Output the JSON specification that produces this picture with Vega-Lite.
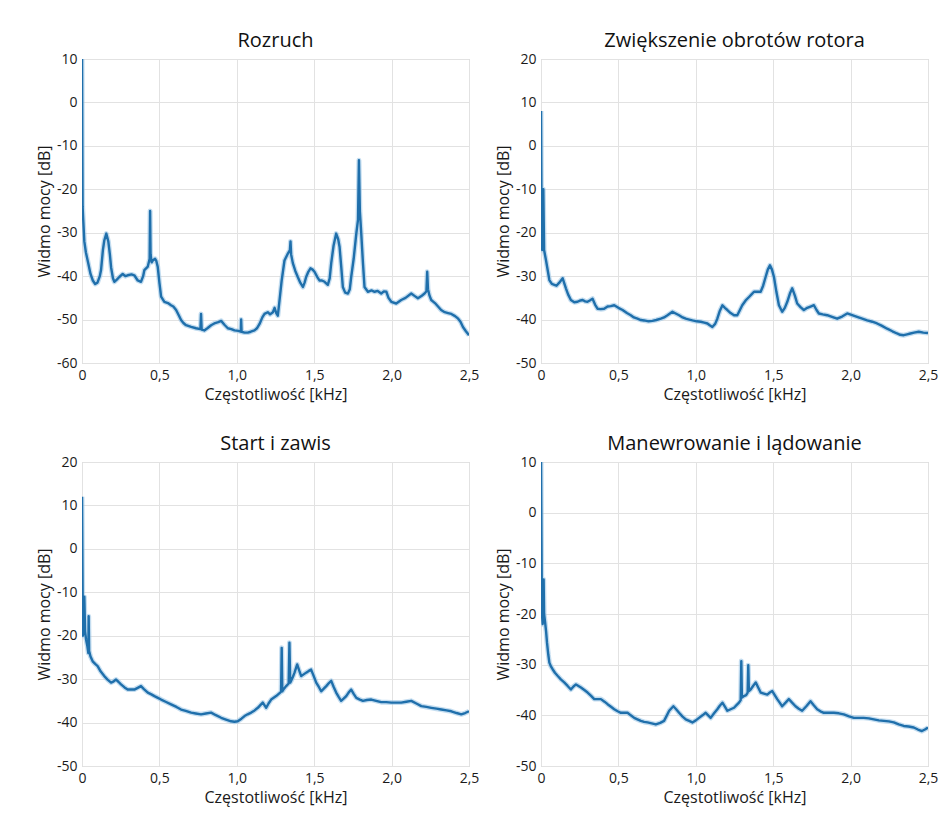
{
  "$schema": "https://vega.github.io/schema/vega-lite/v6.json",
  "background": "white",
  "padding": {"left": 35, "top": 30, "right": 5, "bottom": 5},
  "columns": 2,
  "bounds": "flush",
  "spacing": {"row": 99, "column": 72},
  "datasets": {
    "rozruch": [
      {"f":0,"db":11},{"f":0.002,"db":-10},{"f":0.004,"db":-24},{"f":0.008,"db":-27},{"f":0.015,"db":-32},{"f":0.025,"db":-34.5},{"f":0.04,"db":-37},{"f":0.055,"db":-39.5},{"f":0.07,"db":-41},{"f":0.085,"db":-41.8},{"f":0.1,"db":-41.5},{"f":0.115,"db":-40},{"f":0.123,"db":-38.6},{"f":0.135,"db":-34},{"f":0.144,"db":-31.8},{"f":0.157,"db":-30.2},{"f":0.17,"db":-32},{"f":0.18,"db":-35},{"f":0.188,"db":-38},{"f":0.2,"db":-40.5},{"f":0.209,"db":-41.3},{"f":0.225,"db":-40.8},{"f":0.241,"db":-40.2},{"f":0.263,"db":-39.5},{"f":0.28,"db":-40},{"f":0.295,"db":-39.8},{"f":0.32,"db":-39.6},{"f":0.338,"db":-39.8},{"f":0.36,"db":-41},{"f":0.381,"db":-41.3},{"f":0.395,"db":-40},{"f":0.403,"db":-38.6},{"f":0.425,"db":-37.8},{"f":0.437,"db":-36},{"f":0.44,"db":-25},{"f":0.443,"db":-35},{"f":0.45,"db":-36.8},{"f":0.457,"db":-36.4},{"f":0.472,"db":-36},{"f":0.48,"db":-36.5},{"f":0.489,"db":-37.8},{"f":0.5,"db":-41.5},{"f":0.511,"db":-44.7},{"f":0.532,"db":-45.9},{"f":0.555,"db":-46.2},{"f":0.575,"db":-46.7},{"f":0.59,"db":-47},{"f":0.608,"db":-47.8},{"f":0.625,"db":-49},{"f":0.64,"db":-50.1},{"f":0.655,"db":-50.8},{"f":0.672,"db":-51.3},{"f":0.705,"db":-51.7},{"f":0.737,"db":-52},{"f":0.765,"db":-52.2},{"f":0.769,"db":-48.7},{"f":0.773,"db":-52.3},{"f":0.79,"db":-52.5},{"f":0.81,"db":-52},{"f":0.834,"db":-51.3},{"f":0.86,"db":-50.8},{"f":0.88,"db":-50.6},{"f":0.899,"db":-50.3},{"f":0.92,"db":-51.2},{"f":0.942,"db":-52},{"f":0.965,"db":-52.2},{"f":0.985,"db":-52.5},{"f":1.01,"db":-52.6},{"f":1.026,"db":-52.8},{"f":1.028,"db":-50},{"f":1.031,"db":-52.8},{"f":1.05,"db":-53},{"f":1.071,"db":-53},{"f":1.09,"db":-52.8},{"f":1.114,"db":-52.5},{"f":1.13,"db":-52},{"f":1.147,"db":-51},{"f":1.165,"db":-49.5},{"f":1.179,"db":-48.7},{"f":1.2,"db":-48.3},{"f":1.215,"db":-48.8},{"f":1.233,"db":-48.3},{"f":1.244,"db":-47.3},{"f":1.255,"db":-48.5},{"f":1.265,"db":-49.1},{"f":1.276,"db":-45.6},{"f":1.29,"db":-41},{"f":1.308,"db":-36.4},{"f":1.33,"db":-34.8},{"f":1.343,"db":-34},{"f":1.347,"db":-32},{"f":1.351,"db":-35},{"f":1.362,"db":-37},{"f":1.378,"db":-38.8},{"f":1.394,"db":-40.2},{"f":1.41,"db":-41.5},{"f":1.427,"db":-42.5},{"f":1.438,"db":-41.5},{"f":1.448,"db":-40.2},{"f":1.462,"db":-39},{"f":1.476,"db":-38.2},{"f":1.49,"db":-38.5},{"f":1.502,"db":-39},{"f":1.52,"db":-40.2},{"f":1.534,"db":-41},{"f":1.55,"db":-41},{"f":1.567,"db":-41.3},{"f":1.588,"db":-42},{"f":1.6,"db":-40.5},{"f":1.61,"db":-37},{"f":1.625,"db":-33},{"f":1.642,"db":-30.2},{"f":1.655,"db":-31.5},{"f":1.664,"db":-33.3},{"f":1.675,"db":-38},{"f":1.685,"db":-42.5},{"f":1.7,"db":-43.8},{"f":1.718,"db":-44},{"f":1.73,"db":-43},{"f":1.739,"db":-40.2},{"f":1.755,"db":-36},{"f":1.772,"db":-30.2},{"f":1.783,"db":-27},{"f":1.789,"db":-13.3},{"f":1.795,"db":-25},{"f":1.804,"db":-30.2},{"f":1.815,"db":-37},{"f":1.825,"db":-42.5},{"f":1.847,"db":-43.6},{"f":1.87,"db":-43.3},{"f":1.89,"db":-43.6},{"f":1.91,"db":-43.4},{"f":1.933,"db":-44},{"f":1.95,"db":-43.5},{"f":1.966,"db":-43.6},{"f":1.98,"db":-45},{"f":1.998,"db":-45.9},{"f":2.03,"db":-46.3},{"f":2.062,"db":-45.5},{"f":2.09,"db":-45},{"f":2.127,"db":-44},{"f":2.15,"db":-44.6},{"f":2.17,"db":-45.1},{"f":2.195,"db":-44.5},{"f":2.213,"db":-44},{"f":2.225,"db":-43.5},{"f":2.23,"db":-39},{"f":2.235,"db":-43},{"f":2.245,"db":-44.5},{"f":2.256,"db":-45.5},{"f":2.28,"db":-46.2},{"f":2.3,"db":-47},{"f":2.32,"db":-47.8},{"f":2.343,"db":-48.3},{"f":2.365,"db":-48.5},{"f":2.386,"db":-48.7},{"f":2.41,"db":-49.2},{"f":2.43,"db":-49.8},{"f":2.445,"db":-50.5},{"f":2.461,"db":-51.7},{"f":2.48,"db":-52.7},{"f":2.5,"db":-53.6}
    ],
    "zwiekszenie": [
      {"f":0,"db":8},{"f":0.004,"db":-18},{"f":0.008,"db":-24},{"f":0.015,"db":-10},{"f":0.02,"db":-24},{"f":0.032,"db":-26.3},{"f":0.045,"db":-29},{"f":0.054,"db":-30.9},{"f":0.07,"db":-31.8},{"f":0.086,"db":-32},{"f":0.1,"db":-32.2},{"f":0.118,"db":-31.5},{"f":0.14,"db":-30.5},{"f":0.161,"db":-32.8},{"f":0.175,"db":-34.2},{"f":0.193,"db":-35.5},{"f":0.215,"db":-36},{"f":0.236,"db":-35.9},{"f":0.255,"db":-35.6},{"f":0.269,"db":-35.5},{"f":0.285,"db":-35.8},{"f":0.3,"db":-35.9},{"f":0.315,"db":-35.6},{"f":0.333,"db":-35.2},{"f":0.35,"db":-36.6},{"f":0.365,"db":-37.5},{"f":0.385,"db":-37.6},{"f":0.408,"db":-37.5},{"f":0.43,"db":-37},{"f":0.45,"db":-36.9},{"f":0.473,"db":-36.7},{"f":0.5,"db":-37.3},{"f":0.527,"db":-37.8},{"f":0.555,"db":-38.5},{"f":0.58,"db":-39},{"f":0.6,"db":-39.5},{"f":0.623,"db":-39.8},{"f":0.645,"db":-40.1},{"f":0.666,"db":-40.2},{"f":0.695,"db":-40.4},{"f":0.72,"db":-40.3},{"f":0.745,"db":-40.1},{"f":0.774,"db":-39.8},{"f":0.795,"db":-39.5},{"f":0.817,"db":-39},{"f":0.849,"db":-38.2},{"f":0.87,"db":-38.6},{"f":0.892,"db":-39},{"f":0.915,"db":-39.5},{"f":0.935,"db":-39.8},{"f":0.958,"db":-40},{"f":0.978,"db":-40.2},{"f":1.005,"db":-40.4},{"f":1.032,"db":-40.5},{"f":1.055,"db":-40.7},{"f":1.075,"db":-40.9},{"f":1.09,"db":-41.3},{"f":1.107,"db":-41.7},{"f":1.125,"db":-41},{"f":1.139,"db":-39.8},{"f":1.155,"db":-38},{"f":1.172,"db":-36.7},{"f":1.188,"db":-37.3},{"f":1.204,"db":-37.8},{"f":1.225,"db":-38.5},{"f":1.247,"db":-39},{"f":1.268,"db":-39},{"f":1.285,"db":-37.8},{"f":1.3,"db":-36.7},{"f":1.322,"db":-35.6},{"f":1.344,"db":-34.8},{"f":1.36,"db":-34.2},{"f":1.376,"db":-33.6},{"f":1.4,"db":-33.6},{"f":1.419,"db":-33.6},{"f":1.435,"db":-32.2},{"f":1.451,"db":-30.2},{"f":1.465,"db":-28.5},{"f":1.479,"db":-27.5},{"f":1.492,"db":-28.5},{"f":1.505,"db":-30.2},{"f":1.52,"db":-33.5},{"f":1.537,"db":-36.7},{"f":1.558,"db":-38.2},{"f":1.575,"db":-37.3},{"f":1.591,"db":-35.9},{"f":1.608,"db":-34},{"f":1.623,"db":-32.8},{"f":1.64,"db":-34.5},{"f":1.655,"db":-36.3},{"f":1.678,"db":-37.2},{"f":1.698,"db":-37.8},{"f":1.72,"db":-37.3},{"f":1.741,"db":-37},{"f":1.763,"db":-36.7},{"f":1.78,"db":-37.8},{"f":1.795,"db":-38.6},{"f":1.82,"db":-38.8},{"f":1.849,"db":-39},{"f":1.88,"db":-39.4},{"f":1.913,"db":-39.8},{"f":1.945,"db":-39.3},{"f":1.978,"db":-38.6},{"f":2.01,"db":-39},{"f":2.042,"db":-39.4},{"f":2.075,"db":-39.8},{"f":2.107,"db":-40.2},{"f":2.14,"db":-40.5},{"f":2.171,"db":-40.9},{"f":2.2,"db":-41.4},{"f":2.236,"db":-42.1},{"f":2.27,"db":-42.7},{"f":2.3,"db":-43.2},{"f":2.32,"db":-43.5},{"f":2.343,"db":-43.6},{"f":2.365,"db":-43.4},{"f":2.386,"db":-43.2},{"f":2.41,"db":-43},{"f":2.44,"db":-42.8},{"f":2.47,"db":-43},{"f":2.5,"db":-43.1}
    ],
    "start": [
      {"f":0,"db":12},{"f":0.003,"db":-5},{"f":0.006,"db":-20},{"f":0.01,"db":-17},{"f":0.015,"db":-11},{"f":0.02,"db":-19},{"f":0.026,"db":-20.8},{"f":0.035,"db":-22.5},{"f":0.041,"db":-24},{"f":0.043,"db":-15.5},{"f":0.046,"db":-23.5},{"f":0.055,"db":-24.8},{"f":0.069,"db":-25.9},{"f":0.085,"db":-26.5},{"f":0.101,"db":-27},{"f":0.12,"db":-28.2},{"f":0.144,"db":-29.3},{"f":0.165,"db":-30.1},{"f":0.188,"db":-30.8},{"f":0.205,"db":-30.5},{"f":0.22,"db":-30.1},{"f":0.235,"db":-30.6},{"f":0.252,"db":-31.2},{"f":0.275,"db":-31.9},{"f":0.295,"db":-32.4},{"f":0.318,"db":-32.4},{"f":0.338,"db":-32.4},{"f":0.36,"db":-32},{"f":0.381,"db":-31.6},{"f":0.4,"db":-32.3},{"f":0.425,"db":-33.1},{"f":0.448,"db":-33.5},{"f":0.468,"db":-33.9},{"f":0.49,"db":-34.3},{"f":0.511,"db":-34.7},{"f":0.54,"db":-35.2},{"f":0.575,"db":-35.8},{"f":0.61,"db":-36.4},{"f":0.64,"db":-37},{"f":0.67,"db":-37.3},{"f":0.705,"db":-37.7},{"f":0.735,"db":-37.9},{"f":0.769,"db":-38.1},{"f":0.8,"db":-37.9},{"f":0.834,"db":-37.7},{"f":0.865,"db":-38.3},{"f":0.899,"db":-38.9},{"f":0.93,"db":-39.3},{"f":0.963,"db":-39.7},{"f":0.985,"db":-39.8},{"f":1.006,"db":-39.7},{"f":1.03,"db":-39.1},{"f":1.05,"db":-38.5},{"f":1.07,"db":-38.1},{"f":1.093,"db":-37.7},{"f":1.115,"db":-37.2},{"f":1.136,"db":-36.6},{"f":1.152,"db":-36},{"f":1.168,"db":-35.4},{"f":1.19,"db":-36.6},{"f":1.205,"db":-35.6},{"f":1.222,"db":-34.7},{"f":1.254,"db":-33.9},{"f":1.28,"db":-33.1},{"f":1.286,"db":-32.9},{"f":1.29,"db":-22.8},{"f":1.294,"db":-32.8},{"f":1.305,"db":-32.2},{"f":1.319,"db":-31.6},{"f":1.335,"db":-31},{"f":1.34,"db":-21.6},{"f":1.345,"db":-30.8},{"f":1.351,"db":-30.4},{"f":1.362,"db":-29.5},{"f":1.373,"db":-28.5},{"f":1.39,"db":-26.6},{"f":1.403,"db":-28},{"f":1.416,"db":-29.3},{"f":1.432,"db":-28.9},{"f":1.448,"db":-28.5},{"f":1.465,"db":-28.1},{"f":1.48,"db":-27.8},{"f":1.497,"db":-29.3},{"f":1.513,"db":-30.8},{"f":1.53,"db":-31.8},{"f":1.545,"db":-32.8},{"f":1.562,"db":-32.2},{"f":1.578,"db":-31.6},{"f":1.595,"db":-30.9},{"f":1.61,"db":-30.4},{"f":1.626,"db":-31.8},{"f":1.642,"db":-33.1},{"f":1.658,"db":-34.1},{"f":1.674,"db":-35},{"f":1.69,"db":-34.5},{"f":1.707,"db":-33.9},{"f":1.722,"db":-33.1},{"f":1.739,"db":-32.4},{"f":1.755,"db":-33.4},{"f":1.772,"db":-34.3},{"f":1.795,"db":-34.7},{"f":1.815,"db":-35},{"f":1.84,"db":-34.8},{"f":1.869,"db":-34.7},{"f":1.9,"db":-35},{"f":1.933,"db":-35.3},{"f":1.965,"db":-35.3},{"f":1.998,"db":-35.4},{"f":2.03,"db":-35.4},{"f":2.062,"db":-35.4},{"f":2.095,"db":-35.2},{"f":2.127,"db":-35},{"f":2.16,"db":-35.6},{"f":2.192,"db":-36.2},{"f":2.225,"db":-36.4},{"f":2.256,"db":-36.6},{"f":2.29,"db":-36.8},{"f":2.321,"db":-37},{"f":2.355,"db":-37.2},{"f":2.386,"db":-37.4},{"f":2.42,"db":-37.8},{"f":2.45,"db":-38.1},{"f":2.475,"db":-37.8},{"f":2.5,"db":-37.4}
    ],
    "manewr": [
      {"f":0,"db":11},{"f":0.003,"db":-5},{"f":0.006,"db":-20},{"f":0.011,"db":-22},{"f":0.017,"db":-13.2},{"f":0.02,"db":-20},{"f":0.026,"db":-21.5},{"f":0.033,"db":-23.5},{"f":0.039,"db":-25.7},{"f":0.047,"db":-28},{"f":0.054,"db":-29.6},{"f":0.065,"db":-30.4},{"f":0.075,"db":-30.9},{"f":0.09,"db":-31.6},{"f":0.107,"db":-32.2},{"f":0.128,"db":-32.9},{"f":0.15,"db":-33.5},{"f":0.172,"db":-34.2},{"f":0.193,"db":-34.9},{"f":0.21,"db":-34.3},{"f":0.226,"db":-33.9},{"f":0.242,"db":-34.2},{"f":0.258,"db":-34.5},{"f":0.28,"db":-35},{"f":0.301,"db":-35.5},{"f":0.322,"db":-36.1},{"f":0.344,"db":-36.8},{"f":0.365,"db":-36.8},{"f":0.387,"db":-36.8},{"f":0.41,"db":-37.3},{"f":0.43,"db":-37.8},{"f":0.452,"db":-38.3},{"f":0.473,"db":-38.8},{"f":0.495,"db":-39.2},{"f":0.516,"db":-39.5},{"f":0.538,"db":-39.5},{"f":0.559,"db":-39.5},{"f":0.58,"db":-40},{"f":0.602,"db":-40.5},{"f":0.623,"db":-40.8},{"f":0.645,"db":-41.1},{"f":0.666,"db":-41.3},{"f":0.688,"db":-41.4},{"f":0.715,"db":-41.6},{"f":0.742,"db":-41.8},{"f":0.77,"db":-41.5},{"f":0.795,"db":-41.1},{"f":0.81,"db":-40.2},{"f":0.828,"db":-39.1},{"f":0.855,"db":-38.2},{"f":0.873,"db":-38.8},{"f":0.892,"db":-39.5},{"f":0.913,"db":-40.2},{"f":0.935,"db":-40.8},{"f":0.957,"db":-41.1},{"f":0.978,"db":-41.4},{"f":1.0,"db":-41},{"f":1.021,"db":-40.5},{"f":1.043,"db":-40},{"f":1.064,"db":-39.5},{"f":1.08,"db":-40},{"f":1.096,"db":-40.5},{"f":1.118,"db":-39.6},{"f":1.139,"db":-38.8},{"f":1.155,"db":-38.1},{"f":1.172,"db":-37.5},{"f":1.188,"db":-38.3},{"f":1.204,"db":-39.1},{"f":1.225,"db":-38.8},{"f":1.247,"db":-38.5},{"f":1.263,"db":-38},{"f":1.279,"db":-37.5},{"f":1.29,"db":-37},{"f":1.294,"db":-29.3},{"f":1.298,"db":-36.5},{"f":1.311,"db":-36.2},{"f":1.325,"db":-36},{"f":1.335,"db":-35.5},{"f":1.339,"db":-30.1},{"f":1.343,"db":-35.2},{"f":1.354,"db":-34.9},{"f":1.37,"db":-34.2},{"f":1.387,"db":-33.5},{"f":1.403,"db":-34.5},{"f":1.419,"db":-35.5},{"f":1.44,"db":-35.7},{"f":1.462,"db":-35.9},{"f":1.478,"db":-35.5},{"f":1.494,"db":-35.2},{"f":1.51,"db":-36},{"f":1.526,"db":-36.8},{"f":1.542,"db":-37.5},{"f":1.558,"db":-38.2},{"f":1.58,"db":-37.5},{"f":1.601,"db":-36.8},{"f":1.622,"db":-37.5},{"f":1.644,"db":-38.2},{"f":1.665,"db":-38.7},{"f":1.687,"db":-39.1},{"f":1.714,"db":-38.2},{"f":1.741,"db":-37.2},{"f":1.762,"db":-38},{"f":1.784,"db":-38.8},{"f":1.805,"db":-39.2},{"f":1.827,"db":-39.5},{"f":1.86,"db":-39.5},{"f":1.892,"db":-39.5},{"f":1.924,"db":-39.6},{"f":1.956,"db":-39.8},{"f":1.99,"db":-40.2},{"f":2.021,"db":-40.5},{"f":2.053,"db":-40.5},{"f":2.085,"db":-40.5},{"f":2.118,"db":-40.6},{"f":2.15,"db":-40.8},{"f":2.182,"db":-41},{"f":2.214,"db":-41.1},{"f":2.247,"db":-41.2},{"f":2.279,"db":-41.4},{"f":2.311,"db":-41.8},{"f":2.343,"db":-42.1},{"f":2.375,"db":-42.2},{"f":2.408,"db":-42.4},{"f":2.435,"db":-42.8},{"f":2.461,"db":-43.1},{"f":2.48,"db":-42.8},{"f":2.5,"db":-42.4}
    ]
  },
  "concat": [
    {
      "title": "Rozruch",
      "width": 387, "height": 304,
      "data": {"name": "rozruch"},
      "encoding": {
        "x": {"field": "f", "type": "quantitative", "scale": {"domain": [0, 2.5], "nice": false}, "axis": {"values": [0, 0.5, 1, 1.5, 2, 2.5], "title": "Częstotliwość [kHz]", "labelExpr": "datum.value == 0 ? '0' : replace(format(datum.value, '.1f'), '.', ',')"}},
        "y": {"field": "db", "type": "quantitative", "scale": {"domain": [-60, 10], "nice": false, "zero": false}, "axis": {"values": [-60, -50, -40, -30, -20, -10, 0, 10], "title": "Widmo mocy [dB]", "labelExpr": "'' + datum.value"}}
      },
      "layer": [
        {"mark": {"type": "line", "clip": true, "color": "#9cc6e6", "strokeWidth": 5, "opacity": 0.6, "strokeJoin": "round"}},
        {"mark": {"type": "line", "clip": true, "color": "#1f6fab", "strokeWidth": 2.4, "strokeJoin": "round"}}
      ]
    },
    {
      "title": "Zwiększenie obrotów rotora",
      "width": 387, "height": 304,
      "data": {"name": "zwiekszenie"},
      "encoding": {
        "x": {"field": "f", "type": "quantitative", "scale": {"domain": [0, 2.5], "nice": false}, "axis": {"values": [0, 0.5, 1, 1.5, 2, 2.5], "title": "Częstotliwość [kHz]", "labelExpr": "datum.value == 0 ? '0' : replace(format(datum.value, '.1f'), '.', ',')"}},
        "y": {"field": "db", "type": "quantitative", "scale": {"domain": [-50, 20], "nice": false, "zero": false}, "axis": {"values": [-50, -40, -30, -20, -10, 0, 10, 20], "title": "Widmo mocy [dB]", "labelExpr": "'' + datum.value"}}
      },
      "layer": [
        {"mark": {"type": "line", "clip": true, "color": "#9cc6e6", "strokeWidth": 5, "opacity": 0.6, "strokeJoin": "round"}},
        {"mark": {"type": "line", "clip": true, "color": "#1f6fab", "strokeWidth": 2.4, "strokeJoin": "round"}}
      ]
    },
    {
      "title": "Start i zawis",
      "width": 387, "height": 304,
      "data": {"name": "start"},
      "encoding": {
        "x": {"field": "f", "type": "quantitative", "scale": {"domain": [0, 2.5], "nice": false}, "axis": {"values": [0, 0.5, 1, 1.5, 2, 2.5], "title": "Częstotliwość [kHz]", "labelExpr": "datum.value == 0 ? '0' : replace(format(datum.value, '.1f'), '.', ',')"}},
        "y": {"field": "db", "type": "quantitative", "scale": {"domain": [-50, 20], "nice": false, "zero": false}, "axis": {"values": [-50, -40, -30, -20, -10, 0, 10, 20], "title": "Widmo mocy [dB]", "labelExpr": "'' + datum.value"}}
      },
      "layer": [
        {"mark": {"type": "line", "clip": true, "color": "#9cc6e6", "strokeWidth": 5, "opacity": 0.6, "strokeJoin": "round"}},
        {"mark": {"type": "line", "clip": true, "color": "#1f6fab", "strokeWidth": 2.4, "strokeJoin": "round"}}
      ]
    },
    {
      "title": "Manewrowanie i lądowanie",
      "width": 387, "height": 304,
      "data": {"name": "manewr"},
      "encoding": {
        "x": {"field": "f", "type": "quantitative", "scale": {"domain": [0, 2.5], "nice": false}, "axis": {"values": [0, 0.5, 1, 1.5, 2, 2.5], "title": "Częstotliwość [kHz]", "labelExpr": "datum.value == 0 ? '0' : replace(format(datum.value, '.1f'), '.', ',')"}},
        "y": {"field": "db", "type": "quantitative", "scale": {"domain": [-50, 10], "nice": false, "zero": false}, "axis": {"values": [-50, -40, -30, -20, -10, 0, 10], "title": "Widmo mocy [dB]", "labelExpr": "'' + datum.value"}}
      },
      "layer": [
        {"mark": {"type": "line", "clip": true, "color": "#9cc6e6", "strokeWidth": 5, "opacity": 0.6, "strokeJoin": "round"}},
        {"mark": {"type": "line", "clip": true, "color": "#1f6fab", "strokeWidth": 2.4, "strokeJoin": "round"}}
      ]
    }
  ],
  "config": {
    "font": "Open Sans",
    "view": {"stroke": "#c9c9c9", "strokeWidth": 1},
    "title": {"fontSize": 20, "fontWeight": "normal", "color": "#111111", "offset": 1, "anchor": "middle"},
    "axis": {
      "labelFontSize": 14, "titleFontSize": 16, "titleFontWeight": "normal",
      "labelColor": "#1a1a1a", "titleColor": "#1a1a1a",
      "gridColor": "#e2e2e2", "grid": true, "domain": false, "ticks": false,
      "labelPadding": 5, "titlePadding": 4, "labelFlush": false
    }
  }
}
